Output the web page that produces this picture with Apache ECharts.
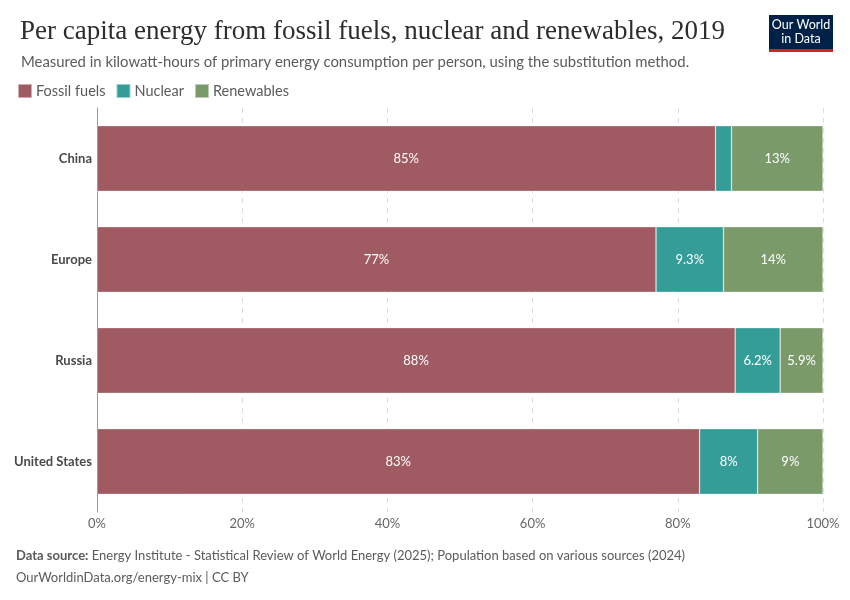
<!DOCTYPE html>
<html>
<head>
<meta charset="utf-8">
<script src="https://cdn.jsdelivr.net/npm/echarts@6/dist/echarts.min.js"></script>
<style>
  html, body { margin: 0; padding: 0; background: #fff; }
  #chart { width: 850px; height: 600px; }
</style>
</head>
<body>
<div id="chart"></div>
<script>
// share of per capita primary energy, 2019 (%)
const countries = ['China', 'Europe', 'Russia', 'United States'];
const fossil = [85.2, 77.0, 87.9, 83.0];
const nuclear = [2.2, 9.3, 6.2, 8.0];
const renewables = [12.6, 13.7, 5.9, 9.0];
const xTicks = [0, 20, 40, 60, 80, 100];

const colors = { fossil: '#a05a61', nuclear: '#359d98', renew: '#7b9a6a' };
const font = 'Lato, "Noto Sans", sans-serif';

const chart = echarts.init(document.getElementById('chart'));

function fmt(v) {
  return parseFloat(v.toPrecision(2)) + '%';
}

function makeSeries(name, data, color) {
  return {
    name: name,
    type: 'bar',
    stack: 'total',
    barCategoryGap: '35%',
    data: data,
    itemStyle: { color: color, borderColor: 'rgba(255,255,255,0.5)', borderWidth: 0.6 },
    label: {
      show: true,
      position: 'inside',
      color: '#fff',
      fontFamily: font,
      fontSize: 13,
      formatter: p => (p.value < 3 ? '' : fmt(p.value))
    },
    emphasis: { disabled: true }
  };
}

const option = {
  animation: false,
  textStyle: { fontFamily: font },
  title: [
    {
      text: 'Per capita energy from fossil fuels, nuclear and renewables, 2019',
      left: 15, top: 13,
      textStyle: { fontFamily: '"Liberation Serif", "DejaVu Serif", serif', fontSize: 27, fontWeight: 'normal', color: '#2d2d2d' }
    },
    {
      text: 'Measured in kilowatt-hours of primary energy consumption per person, using the substitution method.',
      left: 16, top: 50,
      textStyle: { fontFamily: font, fontSize: 14.9, fontWeight: 'normal', color: '#5b5b5b' }
    }
  ],
  legend: {
    left: 12, top: 78,
    itemWidth: 14, itemHeight: 14, itemGap: 10,
    icon: 'rect',
    textStyle: { fontFamily: font, fontSize: 14.5, color: '#5b5b5b', padding: [0, 0, 0, -1] },
    data: ['Fossil fuels', 'Nuclear', 'Renewables']
  },
  grid: { left: 97, right: 27, top: 108, bottom: 88 },
  xAxis: {
    type: 'value',
    min: 0, max: 100, interval: 20,
    axisLine: { show: false },
    axisTick: { show: false },
    splitLine: { show: true, lineStyle: { type: [5, 5], color: '#dcdcdc', width: 1 } },
    axisLabel: {
      color: '#666', fontSize: 13, fontFamily: font, margin: 5,
      formatter: v => (xTicks.includes(v) ? v + '%' : '')
    }
  },
  yAxis: {
    type: 'category',
    inverse: true,
    data: countries,
    axisLine: { show: true, lineStyle: { color: '#999', width: 1 } },
    axisTick: { show: false },
    axisLabel: { color: '#4a4a4a', fontSize: 13, fontWeight: 'bold', fontFamily: font, margin: 5 }
  },
  series: [
    makeSeries('Fossil fuels', fossil, colors.fossil),
    makeSeries('Nuclear', nuclear, colors.nuclear),
    makeSeries('Renewables', renewables, colors.renew)
  ],
  graphic: [
    { type: 'rect', shape: { x: 769, y: 15, width: 64, height: 35 }, style: { fill: '#002147' } },
    { type: 'rect', shape: { x: 769, y: 49, width: 64, height: 3 }, style: { fill: '#ce261e' } },
    { type: 'text', x: 801, y: 18, style: { text: 'Our World', fill: '#fff', font: '12.5px ' + font, align: 'center' } },
    { type: 'text', x: 801, y: 32, style: { text: 'in Data', fill: '#fff', font: '12.5px ' + font, align: 'center' } },
    {
      type: 'text', x: 16, y: 549,
      style: {
        text: '{b|Data source:} Energy Institute - Statistical Review of World Energy (2025); Population based on various sources (2024)',
        rich: {
          b: { fontWeight: 'bold', fontSize: 13, fontFamily: font, fill: '#5b5b5b' }
        },
        font: '13px ' + font, fill: '#5b5b5b'
      }
    },
    { type: 'text', x: 16, y: 571, style: { text: 'OurWorldinData.org/energy-mix | CC BY', font: '13px ' + font, fill: '#5b5b5b' } }
  ]
};

chart.setOption(option);
</script>
</body>
</html>
